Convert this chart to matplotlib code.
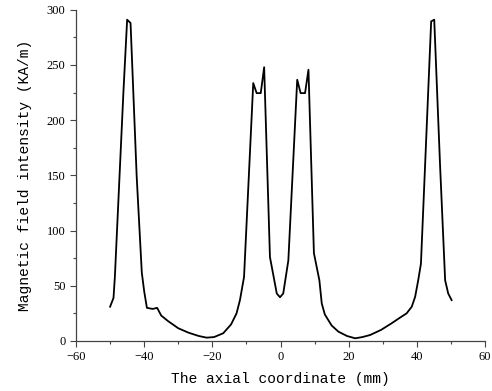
import numpy as np
import matplotlib
matplotlib.use('Agg')
import matplotlib.pyplot as plt
from matplotlib.ticker import MultipleLocator

# axial position (mm) and field intensity (KA/m)
axial_mm = [-50, -49, -48.6, -46.1, -45, -44, -42.2, -40.7, -40, -39.2,
            -37.5, -36.2, -35, -33, -30, -27, -24, -21.7, -19.5, -16.8,
            -14.5, -12.9, -11.9, -10.7, -8, -7, -5.8, -4.8, -3.1, -1.1,
            -0.15, 0.8, 2.3, 4.9, 5.9, 7.2, 8.2, 9.8, 11.4, 12.1,
            13, 15, 17, 19.5, 21.9, 24, 26.3, 29.5, 32.6, 35,
            37, 38.5, 39.5, 40.4, 41.2, 44.2, 45.1, 46.8, 48.3, 49.2,
            50.2]
field_kam = [31, 39, 58, 225, 291, 288, 149, 62, 45, 30,
             29, 30, 23, 18, 11.5, 7.5, 4.5, 3, 3.5, 7,
             15, 25, 37, 58, 233.6, 224.5, 224.5, 248, 76, 43,
             39.6, 43, 73, 236.6, 224.5, 224.5, 245.7, 79.5, 55, 34,
             24, 14, 8.4, 4.5, 2.4, 3.5, 5.4, 10, 16, 21,
             25, 31, 40, 55, 70, 289.5, 291, 160, 55, 43,
             37]

xticks = [-60, -40, -20, 0, 20, 40, 60]
yticks = [0, 50, 100, 150, 200, 250, 300]

fig = plt.figure(figsize=(4.92, 3.91), dpi=100)
ax = fig.add_axes([0.1545, 0.128, 0.8313, 0.847])

ax.plot(axial_mm, field_kam, color='black', linewidth=1.3)

ax.set_xlim(-60, 60)
ax.set_ylim(0, 300)
ax.set_xticks(xticks)
ax.set_yticks(yticks)
ax.set_xticklabels([f'{t}' if t >= 0 else f'\u2212{abs(t)}' for t in xticks])
ax.xaxis.set_minor_locator(MultipleLocator(10))
ax.yaxis.set_minor_locator(MultipleLocator(25))

for side in ('top', 'right'):
    ax.spines[side].set_visible(False)
for side in ('left', 'bottom'):
    ax.spines[side].set_color('#444444')
    ax.spines[side].set_linewidth(0.9)

ax.tick_params(which='major', direction='out', length=4, width=0.8,
               color='#444444', labelsize=9)
ax.tick_params(which='minor', direction='out', length=2.5, width=0.8,
               color='#444444')
for lab in ax.get_xticklabels() + ax.get_yticklabels():
    lab.set_family(['Liberation Serif', 'DejaVu Serif'])

ax.set_xlabel('The axial coordinate (mm)', fontsize=10.5,
              family=['Liberation Mono', 'DejaVu Sans Mono'], labelpad=6)
ax.set_ylabel('Magnetic field intensity (KA/m)', fontsize=10.5,
              family=['Liberation Mono', 'DejaVu Sans Mono'], labelpad=11)

fig.savefig('out.png', dpi=100, facecolor='white')
